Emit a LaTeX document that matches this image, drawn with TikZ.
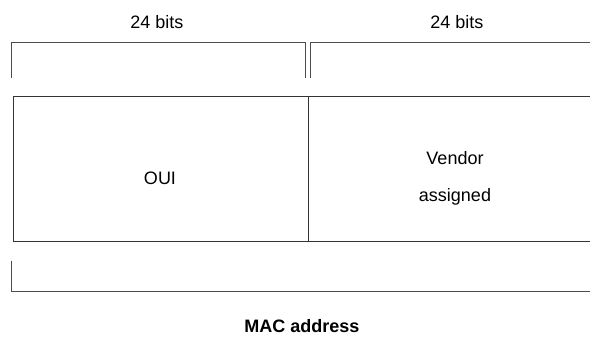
\documentclass[tikz,border=0pt]{standalone}
\usepackage{fontspec}
\setmainfont{Liberation Sans}
\begin{document}
\begin{tikzpicture}[x=1pt,y=-1pt,
  lbl/.style={font=\fontsize{18}{20}\selectfont, inner sep=0pt},
  brk/.style={draw=black!70, line width=1pt},
  boxline/.style={draw=black!80, line width=1pt}]
\useasboundingbox (0,0) rectangle (590,339);
\node[lbl] (b1) at (157,22) {24 bits};
\node[lbl] (b2) at (457,22) {24 bits};
\draw[brk] (11,78) -- (11,43) -- (305,43) -- (305,78);
\draw[brk] (310,78) -- (310,43) -- (591,43);
\draw[boxline] (591,97) -- (13,97) -- (13,242) -- (591,242);
\draw[boxline] (308,97) -- (308,242);
\node[lbl] (oui) at (160,178) {OUI};
\node[lbl] (v1) at (455,158) {Vendor};
\node[lbl] (v2) at (455,197) {assigned};
\draw[brk] (11,261) -- (11,292) -- (591,292);
\node[lbl, font=\fontsize{18}{20}\selectfont\bfseries] (mac) at (302,326) {MAC address};
\end{tikzpicture}
\end{document}
